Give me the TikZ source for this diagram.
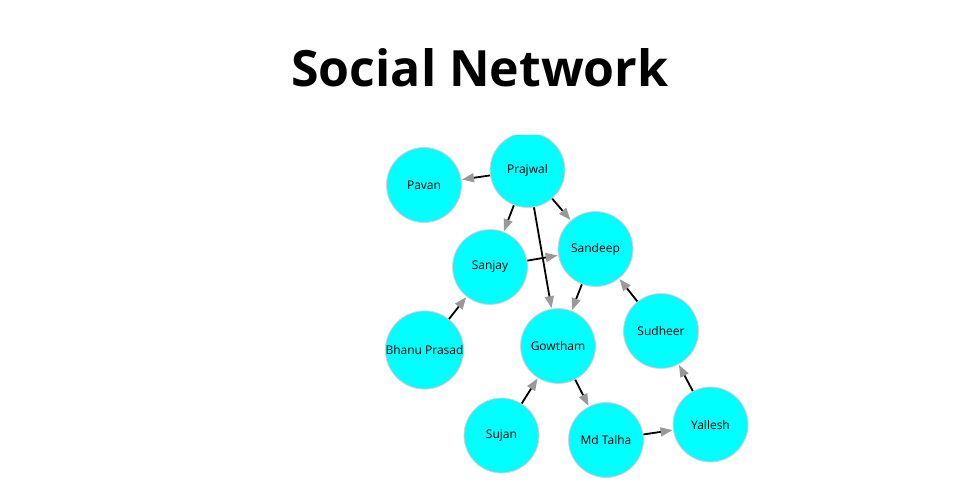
\documentclass[tikz,border=0pt]{standalone}
\usepackage{fontspec}
\setmainfont{Open Sans}
\usetikzlibrary{arrows.meta}
\definecolor{nodecyan}{HTML}{00FFFF}
\definecolor{nodepink}{HTML}{FFC0CB}
\definecolor{headgray}{HTML}{999999}
\begin{document}
\begin{tikzpicture}[x=1pt,y=-1pt,
  person/.style={circle,fill=nodecyan,draw=nodepink,line width=0.8pt,minimum size=75pt,inner sep=0pt,font=\fontsize{12}{14}\selectfont},
  link/.style={line width=1.8pt,black,-{Triangle[length=12pt,width=9pt,color=headgray]},shorten >=0.5pt}]
\useasboundingbox (0,0) rectangle (960,500);
\node[font=\fontsize{50}{60}\selectfont\bfseries,anchor=base,inner sep=0pt] (title) at (480,87) {Social Network};
\begin{scope}
\clip (0,135) rectangle (960,500);
\node[person] (prajwal) at (527.5,170) {Prajwal};
\node[person] (pavan) at (424,185) {Pavan};
\node[person] (sanjay) at (490,267) {Sanjay};
\node[person] (sandeep) at (595.5,249) {Sandeep};
\node[person] (gowtham) at (558,346) {Gowtham};
\node[person] (bhanu) at (424.5,350) {Bhanu Prasad};
\node[person] (sudheer) at (661,331) {Sudheer};
\node[person] (sujan) at (501.5,435.5) {Sujan};
\node[person] (talha) at (606,440) {Md Talha};
\node[person] (yallesh) at (710.5,424.5) {Yallesh};
\draw[link] (prajwal) -- (pavan);
\draw[link] (prajwal) -- (sanjay);
\draw[link] (prajwal) -- (sandeep);
\draw[link] (prajwal) -- (gowtham);
\draw[link] (sanjay) -- (sandeep);
\draw[link] (sandeep) -- (gowtham);
\draw[link] (bhanu) -- (sanjay);
\draw[link] (sudheer) -- (sandeep);
\draw[link] (sujan) -- (gowtham);
\draw[link] (gowtham) -- (talha);
\draw[link] (talha) -- (yallesh);
\draw[link] (yallesh) -- (sudheer);
\end{scope}
\end{tikzpicture}
\end{document}
